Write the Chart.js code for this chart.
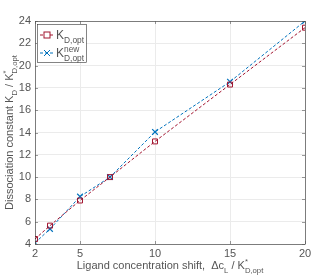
<!DOCTYPE html>
<html lang="en">
<head>
  <meta charset="UTF-8" />
  <title>Dissociation constant</title>
  <script src="https://cdn.jsdelivr.net/npm/chart.js"></script>
  <style>
    html, body { margin: 0; padding: 0; background: #fff; }
    #wrap { width: 316px; height: 278px; }
  </style>
</head>
<body>
  <div id="wrap"><canvas id="grafico" width="316" height="278"></canvas></div>

<script>
// data
const shifts = [2, 3, 5, 7, 10, 15, 20];
const kdOpt = [4.45, 5.65, 7.9, 10.0, 13.2, 18.3, 23.4];
const kdNew = [4.1, 5.35, 8.25, 10.0, 14.05, 18.55, 24.0];
const xTicks = [2, 5, 10, 15, 20];
const yTicks = [4, 6, 8, 10, 12, 14, 16, 18, 20, 22, 24];

const RED = '#A2142F';
const BLUE = '#0072BD';
const TXT = '#555555';
const FONT = 'Liberation Sans, Arial, sans-serif';

function pts(xs, ys) {
  return xs.map((x, i) => ({ x: x, y: ys[i] }));
}

// draw "base" + subscript / superscript parts, returns width
function richText(ctx, x, y, parts, size) {
  let cx = x;
  for (const p of parts) {
    let s = size, dy = 0;
    if (p.sub) { s = size * 0.7; dy = size * 0.32; }
    if (p.sup) { s = size * 0.7; dy = -size * 0.42; }
    ctx.font = s + 'px ' + FONT;
    if (!p.measure) ctx.fillText(p.t, cx, y + dy);
    const w = ctx.measureText(p.t).width;
    if (p.stack) continue; // next part starts at same x
    cx += w;
  }
  return cx - x;
}

const extras = {
  id: 'extras',
  afterDraw(chart) {
    const ctx = chart.ctx;
    const a = chart.chartArea;
    const xs = chart.scales.x, ys = chart.scales.y;
    ctx.save();
    // box
    ctx.strokeStyle = '#333';
    ctx.lineWidth = 0.6;
    ctx.strokeRect(a.left + 0.5, a.top + 0.5, a.right - a.left, a.bottom - a.top);
    // inner ticks
    ctx.strokeStyle = '#555';
    ctx.beginPath();
    xTicks.forEach(v => {
      const px = Math.round(xs.getPixelForValue(v)) + 0.5;
      ctx.moveTo(px, a.bottom); ctx.lineTo(px, a.bottom - 3);
      ctx.moveTo(px, a.top); ctx.lineTo(px, a.top + 3);
    });
    yTicks.forEach(v => {
      const py = Math.round(ys.getPixelForValue(v)) + 0.5;
      ctx.moveTo(a.left, py); ctx.lineTo(a.left + 3, py);
      ctx.moveTo(a.right, py); ctx.lineTo(a.right - 3, py);
    });
    ctx.stroke();

    ctx.fillStyle = TXT;
    ctx.textBaseline = 'alphabetic';
    // x title
    const xParts = [
      { t: 'Ligand concentration shift,  \u0394c' }, { t: 'L', sub: true }, { t: ' / K' },
      { t: '*', sup: true, stack: true }, { t: 'D,opt', sub: true }
    ];
    const wX = richText(ctx, 0, 0, xParts.map(p => Object.assign({}, p, { measure: true })), 11);
    richText(ctx, (a.left + a.right) / 2 - wX / 2, 269, xParts, 11);

    // y title
    const yParts = [
      { t: 'Dissociation constant K' }, { t: 'D', sub: true }, { t: ' / K' },
      { t: '*', sup: true, stack: true }, { t: 'D,opt', sub: true }
    ];
    const wY = richText(ctx, 0, 0, yParts.map(p => Object.assign({}, p, { measure: true })), 11);
    ctx.translate(13, (a.top + a.bottom) / 2);
    ctx.rotate(-Math.PI / 2);
    richText(ctx, -wY / 2, 0, yParts, 11);
    ctx.setTransform(1, 0, 0, 1, 0, 0);

    // legend
    const lx = a.left + 2, ly = a.top + 3, lw = 49, lh = 38;
    ctx.fillStyle = '#fff';
    ctx.fillRect(lx, ly, lw, lh);
    ctx.strokeStyle = '#333';
    ctx.lineWidth = 0.6;
    ctx.strokeRect(lx + 0.5, ly + 0.5, lw, lh);
    const rows = [
      { c: RED, y: ly + 11, parts: [{ t: 'K' }, { t: 'D,opt', sub: true }] },
      { c: BLUE, y: ly + 29, parts: [{ t: 'K' }, { t: 'new', sup: true, stack: true }, { t: 'D,opt', sub: true }] }
    ];
    rows.forEach((r, i) => {
      ctx.strokeStyle = r.c;
      ctx.lineWidth = 1;
      ctx.setLineDash([3, 2]);
      ctx.beginPath();
      ctx.moveTo(lx + 3, r.y); ctx.lineTo(lx + 17, r.y);
      ctx.stroke();
      ctx.setLineDash([]);
      const mx = lx + 10;
      ctx.beginPath();
      if (i === 0) {
        ctx.fillStyle = '#fff';
        ctx.fillRect(mx - 3, r.y - 3, 6, 6);
        ctx.strokeRect(mx - 3, r.y - 3, 6, 6);
      } else {
        ctx.moveTo(mx - 3, r.y - 3); ctx.lineTo(mx + 3, r.y + 3);
        ctx.moveTo(mx + 3, r.y - 3); ctx.lineTo(mx - 3, r.y + 3);
        ctx.stroke();
      }
      ctx.fillStyle = TXT;
      richText(ctx, lx + 19, r.y + 4, r.parts, 12);
    });
    ctx.restore();
  }
};

new Chart(document.getElementById('grafico').getContext('2d'), {
  type: 'line',
  data: {
    datasets: [
      {
        label: 'K_D,opt',
        data: pts(shifts, kdOpt),
        borderColor: RED,
        borderWidth: 1,
        borderDash: [3, 2],
        pointStyle: 'rect',
        pointRadius: 3.5,
        pointBorderColor: RED,
        pointBackgroundColor: 'rgba(255,255,255,0)',
        pointBorderWidth: 1
      },
      {
        label: 'K_new',
        data: pts(shifts, kdNew),
        borderColor: BLUE,
        borderWidth: 1,
        borderDash: [3, 2],
        pointStyle: 'crossRot',
        pointRadius: 4,
        pointBorderColor: BLUE,
        pointBorderWidth: 1.2
      }
    ]
  },
  plugins: [extras],
  options: {
    responsive: false,
    animation: false,
    layout: { padding: { top: 21, right: 11, left: 0, bottom: 0 } },
    plugins: { legend: { display: false }, tooltip: { enabled: false } },
    scales: {
      x: {
        type: 'linear', min: 2, max: 20,
        afterBuildTicks: s => { s.ticks = xTicks.map(v => ({ value: v })); },
        afterFit: s => { s.height = 34; },
        grid: { color: '#ebebeb', tickLength: 0, drawTicks: false },
        border: { display: false },
        ticks: { color: TXT, font: { family: FONT, size: 11 }, padding: 3, maxRotation: 0 }
      },
      y: {
        type: 'linear', min: 4, max: 24,
        afterBuildTicks: s => { s.ticks = yTicks.map(v => ({ value: v })); },
        afterFit: s => { s.width = 35; },
        grid: { color: '#ebebeb', tickLength: 0, drawTicks: false },
        border: { display: false },
        ticks: { color: TXT, font: { family: FONT, size: 11 }, padding: 4 }
      }
    }
  }
});
</script>
</body>
</html>
